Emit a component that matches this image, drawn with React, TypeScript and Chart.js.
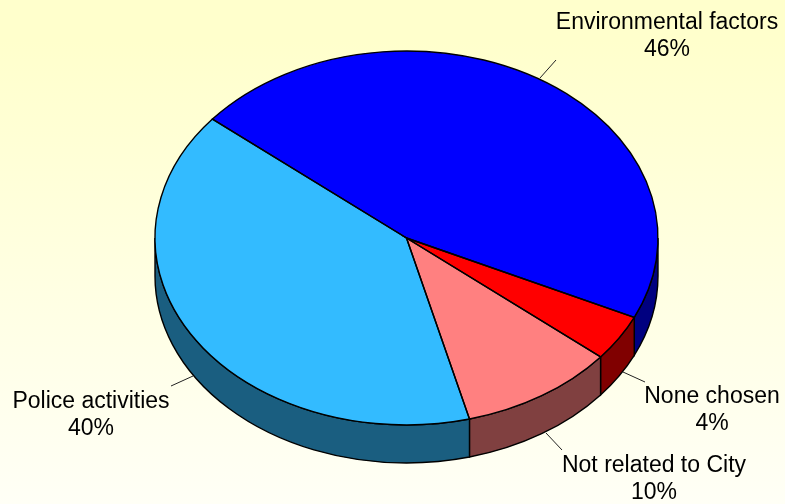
import React, { useEffect, useRef } from "react";
import { Chart, registerables } from "chart.js";

Chart.register(...registerables);

const categories = ["Environmental factors", "None chosen", "Not related to City", "Police activities"];
const shares = [46, 4, 10, 40];
const topColors = ["#0000ff", "#ff0000", "#ff8080", "#33bbff"];
const wallColors = ["#000080", "#800000", "#804040", "#1a5e80"];

// Projection of the tilted disc onto the canvas.
const DISC = { cx: 406.5, cy: 238, rx: 251.5, ry: 187, depth: 38 };

// Leader-line ends and two-line caption centre for each slice, in canvas pixels.
const CAPTIONS = [
  { fromX: 540, fromY: 78, toX: 556, toY: 60, textX: 667, textY: 22.5 },
  { fromX: 623, fromY: 372, toX: 645, toY: 382, textX: 712, textY: 396.5 },
  { fromX: 546, fromY: 433, toX: 562, toY: 450, textX: 654, textY: 465.5 },
  { fromX: 193, fromY: 376, toX: 171, toY: 386, textX: 91, textY: 401.5 },
];
const LINE_GAP = 27;

const TAU = Math.PI * 2;

const tiltedPie = {
  id: "tiltedPie",
  // Extruded side walls, only where the rim faces the viewer.
  beforeDatasetsDraw(chart: any) {
    const { ctx } = chart;
    const { cx, cy, rx, ry, depth } = DISC;
    chart.getDatasetMeta(0).data.forEach((arc: any, i: number) => {
      const { startAngle, endAngle } = arc.getProps(["startAngle", "endAngle"], true);
      const s = ((startAngle % TAU) + TAU) % TAU;
      const e = s + (endAngle - startAngle);
      [0, TAU].forEach((turn) => {
        const a = Math.max(s, turn);
        const b = Math.min(e, turn + Math.PI);
        if (b <= a) return;
        ctx.beginPath();
        ctx.ellipse(cx, cy, rx, ry, 0, a, b);
        ctx.ellipse(cx, cy + depth, rx, ry, 0, b, a, true);
        ctx.closePath();
        ctx.fillStyle = wallColors[i];
        ctx.fill();
        ctx.lineWidth = 1.4;
        ctx.strokeStyle = "#000";
        ctx.stroke();
      });
    });
  },
  // The library's arcs are squashed into the ellipse of the disc's top face.
  beforeDatasetDraw(chart: any) {
    const { ctx } = chart;
    const arc = chart.getDatasetMeta(0).data[0];
    const { x, y, outerRadius } = arc.getProps(["x", "y", "outerRadius"], true);
    ctx.save();
    ctx.translate(DISC.cx, DISC.cy);
    ctx.scale(DISC.rx / outerRadius, DISC.ry / outerRadius);
    ctx.translate(-x, -y);
  },
  afterDatasetDraw(chart: any) {
    chart.ctx.restore();
  },
  // Outlines, leader lines and captions are drawn untransformed.
  afterDatasetsDraw(chart: any) {
    const { ctx } = chart;
    const { cx, cy, rx, ry } = DISC;
    const arcs = chart.getDatasetMeta(0).data;
    arcs.forEach((arc: any, i: number) => {
      const { startAngle, endAngle } = arc.getProps(["startAngle", "endAngle"], true);
      ctx.beginPath();
      ctx.moveTo(cx, cy);
      ctx.ellipse(cx, cy, rx, ry, 0, startAngle, endAngle);
      ctx.closePath();
      ctx.lineWidth = 1.4;
      ctx.strokeStyle = "#000";
      ctx.stroke();

      const cap = CAPTIONS[i];
      ctx.beginPath();
      ctx.moveTo(cap.fromX, cap.fromY);
      ctx.lineTo(cap.toX, cap.toY);
      ctx.lineWidth = 1;
      ctx.strokeStyle = "#222";
      ctx.stroke();

      ctx.fillStyle = "#000";
      ctx.font = '23px "Liberation Sans"';
      ctx.textAlign = "center";
      ctx.textBaseline = "middle";
      ctx.fillText(categories[i], cap.textX, cap.textY);
      ctx.fillText(`${shares[i]}%`, cap.textX, cap.textY + LINE_GAP);
    });
  },
};

export default function App() {
  const canvasRef = useRef<HTMLCanvasElement>(null);

  useEffect(() => {
    const chart = new Chart(canvasRef.current as HTMLCanvasElement, {
      type: "pie",
      data: {
        labels: categories,
        datasets: [{ data: shares, backgroundColor: topColors, borderWidth: 0 }],
      },
      options: {
        responsive: false,
        animation: false,
        rotation: 309.5,
        events: [],
        plugins: { legend: { display: false }, tooltip: { enabled: false } },
      },
      plugins: [tiltedPie],
    } as any);
    return () => chart.destroy();
  }, []);

  return (
    <div
      style={{
        position: "fixed",
        left: 0,
        top: 0,
        width: 785,
        height: 504,
        background: "linear-gradient(180deg, #ffffcc 0%, #ffffcc 8%, #fffff6 100%)",
      }}
    >
      <canvas ref={canvasRef} width={785} height={504} style={{ display: "block" }} />
    </div>
  );
}
